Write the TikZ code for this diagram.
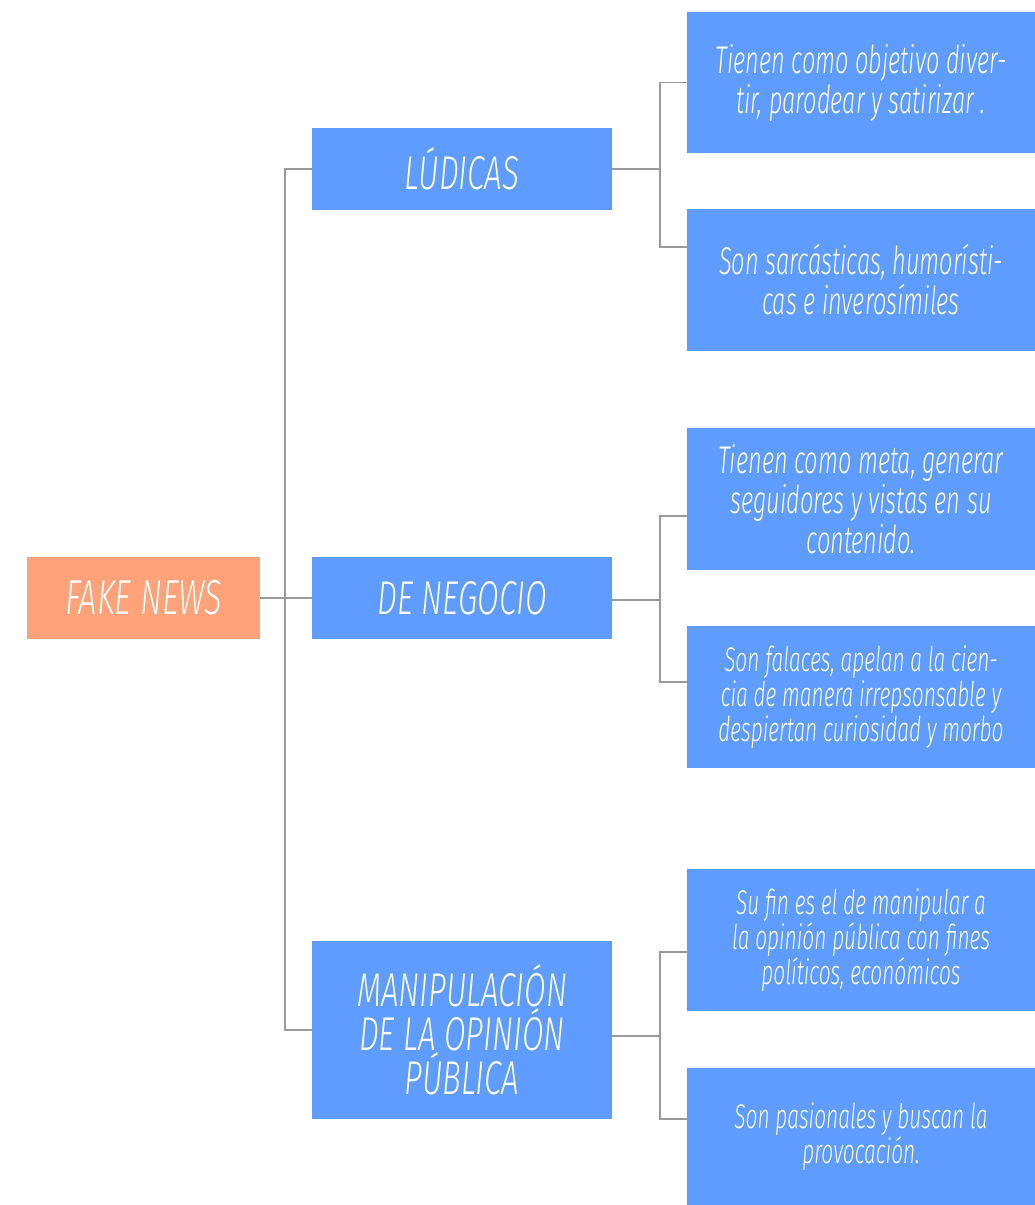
\documentclass[tikz,border=0pt]{standalone}
\usepackage{fontspec}
\newfontfamily\oswald{Fira Sans Light Italic}[FakeStretch=0.61]
\newfontfamily\oswaldwide{Fira Sans Light Italic}[FakeStretch=0.66]
\usepackage{tikz}
\usetikzlibrary{positioning}
\definecolor{boxblue}{HTML}{5E9CFF}
\definecolor{boxorange}{HTML}{FFA279}
\definecolor{linegray}{HTML}{9A9A9A}

\begin{document}
\begin{tikzpicture}[x=0.02cm,y=-0.02cm]
\tikzset{root/.style = {fill=boxorange,text=white,inner sep=0pt,align=center,minimum width=4.66cm,minimum height=1.64cm,font=\oswaldwide\fontsize{28}{28}\selectfont}}
\tikzset{branch/.style = {fill=boxblue,text=white,inner sep=0pt,align=center,minimum width=6cm,minimum height=1.64cm,font=\oswaldwide\fontsize{27}{25}\selectfont}}
\tikzset{leaf/.style = {fill=boxblue,text=white,inner sep=0pt,align=center,minimum width=6.96cm,minimum height=2.84cm,font=\oswald\fontsize{22}{22.8}\selectfont}}
\tikzset{small/.style = {font=\oswald\fontsize{19.5}{20}\selectfont}}
\tikzset{link/.style = {draw=linegray,line width=0.6pt}}
\useasboundingbox (0,0) rectangle (1035,1205);

\node[root] (fake) at (143.5,598) {FAKE NEWS};
\node[branch] (lud) at (462,169) {LÚDICAS};
\node[branch] (neg) at (462,598) {DE NEGOCIO};
\node[branch,minimum height=3.58cm] (man) at (462,1030) {MANIPULACIÓN\\DE LA OPINIÓN\\PÚBLICA};

\node[leaf] (r1) at (861,82.5) {Tienen como objetivo diver-\\tir, parodear y satirizar .};
\node[leaf] (r2) at (861,280) {Son sarcásticas, humorísti-\\cas e inverosímiles};
\node[leaf] (r3) at (861,499) {Tienen como meta, generar\\seguidores y vistas en su\\contenido.};
\node[leaf,small] (r4) at (861,697) {Son falaces, apelan a la cien-\\cia de manera irrepsonsable y\\despiertan curiosidad y morbo};
\node[leaf,small] (r5) at (861,940) {Su fin es el de manipular a\\la opinión pública con fines\\políticos, económicos};
\node[leaf,small,minimum height=2.74cm] (r6) at (861,1136.5) {Son pasionales y buscan la\\provocación.};

\coordinate (tr) at (285,598);
\coordinate (j1) at (660,169);
\coordinate (j2) at (660,600);
\coordinate (j3) at (660,1036);

% trunk
\draw[link,line width=0.9pt] (lud.west) -| (tr) |- (man.west);
\draw[link] (fake) -- (neg);

% right groups
\draw[link] (lud.east) -- (j1);
\draw[link] (r1.west) -| (j1) |- ([yshift=0.66cm]r2.west);
\draw[link] (neg.east |- j2) -- (j2);
\draw[link] ([yshift=-0.34cm]r3.west) -| (j2) |- ([yshift=0.3cm]r4.west);
\draw[link] (man.east |- j3) -- (j3);
\draw[link] ([yshift=-0.24cm]r5.west) -| (j3) |- ([yshift=0.35cm]r6.west);
\end{tikzpicture}
\end{document}
